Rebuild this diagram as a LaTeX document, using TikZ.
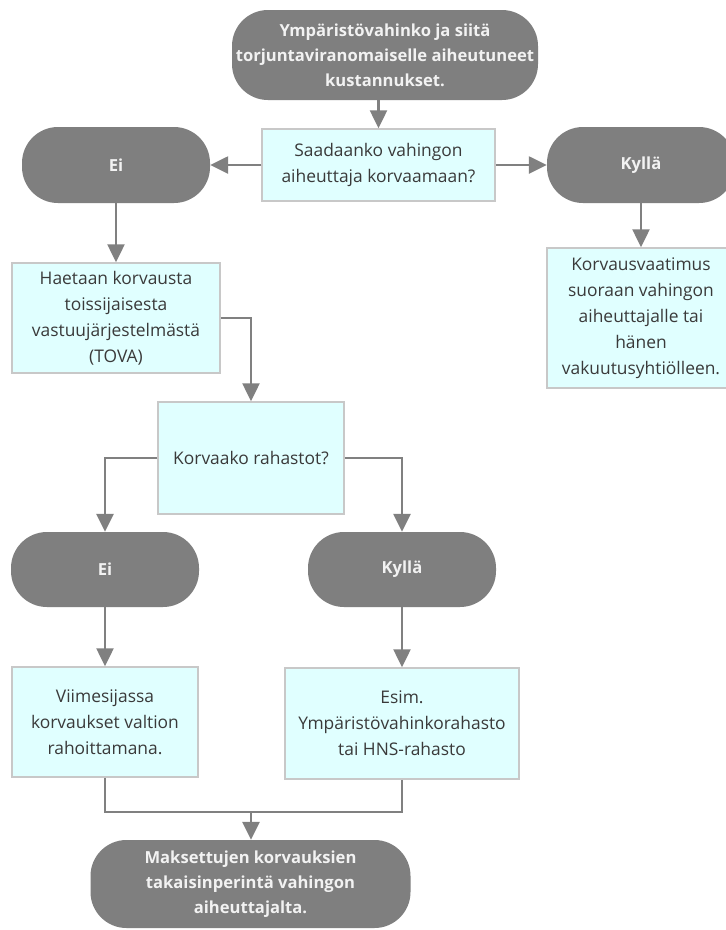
\documentclass[tikz,border=0pt]{standalone}
\usepackage{fontspec}
\setmainfont{Open Sans}
\usetikzlibrary{arrows.meta}
\definecolor{termgray}{HTML}{7F7F7F}
\definecolor{linegray}{HTML}{808080}
\definecolor{boxfill}{HTML}{E0FFFF}
\definecolor{boxline}{HTML}{C8C8C8}
\definecolor{boxtext}{HTML}{3A3A3A}
\definecolor{termtext}{HTML}{F2F2F2}
\tikzset{
  term/.style={draw=none, fill=termgray, rounded corners=36pt, text=termtext,
    font=\fontsize{16.6}{25}\selectfont\bfseries, align=center, inner sep=0pt},
  qbox/.style={draw=boxline, line width=1.5pt, fill=boxfill, text=boxtext,
    font=\fontsize{17.4}{26}\selectfont, align=center, inner sep=0pt},
  arr/.style={draw=linegray, line width=2.5pt, -{Triangle[length=18pt,width=17pt]}},
  ln/.style={draw=linegray, line width=2.5pt}
}
\begin{document}
\begin{tikzpicture}[x=1pt,y=-1pt]
\useasboundingbox (0,0) rectangle (726,930);
\clip (0,0) rectangle (726,930);
\fill[white] (0,0) rectangle (726,930);

\node[term, minimum width=306pt, minimum height=90pt] (t1) at (385,55)
  {Ympäristövahinko ja siitä\\torjuntaviranomaiselle aiheutuneet\\kustannukset.};
\node[qbox, minimum width=233pt, minimum height=72pt] (q1) at (378.5,165)
  {Saadaanko vahingon\\aiheuttaja korvaamaan?};
\node[term, minimum width=188pt, minimum height=76pt] (ei1) at (116,165) {Ei};
\node[term, minimum width=188pt, minimum height=76pt] (ky1) at (641,165) {Kyllä};
\node[qbox, minimum width=208pt, minimum height=110pt] (h) at (116,318)
  {Haetaan korvausta\\toissijaisesta\\vastuujärjestelmästä\\(TOVA)};
\node[qbox, minimum width=188pt, minimum height=140pt] (k) at (641,318)
  {Korvausvaatimus\\suoraan vahingon\\aiheuttajalle tai\\hänen\\vakuutusyhtiölleen.};
\node[qbox, minimum width=186pt, minimum height=112pt] (r) at (251,458)
  {Korvaako rahastot?};
\node[term, minimum width=188pt, minimum height=75pt] (ei2) at (105,569.5) {Ei};
\node[term, minimum width=188pt, minimum height=75pt] (ky2) at (402,569.5) {Kyllä};
\node[qbox, minimum width=186pt, minimum height=110pt] (v) at (105,722)
  {Viimesijassa\\korvaukset valtion\\rahoittamana.};
\node[qbox, minimum width=234pt, minimum height=111pt] (e) at (402,723.5)
  {Esim.\\Ympäristövahinkorahasto\\tai HNS-rahasto};
\node[term, minimum width=320pt, minimum height=88pt] (f) at (250.5,884)
  {Maksettujen korvauksien\\takaisinperintä vahingon\\aiheuttajalta.};
\coordinate (m) at (251,812);

\draw[arr] (t1.south -| q1.north) -- (q1.north);
\draw[arr] (q1.west) -- (q1.west -| ei1.east);
\draw[arr] (q1.east) -- (q1.east -| ky1.west);
\draw[arr] (ei1.south) -- (h.north);
\draw[arr] (ky1.south) -- (k.north);
\draw[arr] (h.east) -| (r.north);
\draw[arr] (r.west) -| (ei2.north);
\draw[arr] (r.east) -| (ky2.north);
\draw[arr] (ei2.south) -- (v.north);
\draw[arr] (ky2.south) -- (e.north);
\draw[ln] (v.south) |- (m);
\draw[ln] (e.south) |- (m);
\draw[arr] (m) -- (m |- f.north);
\end{tikzpicture}
\end{document}
